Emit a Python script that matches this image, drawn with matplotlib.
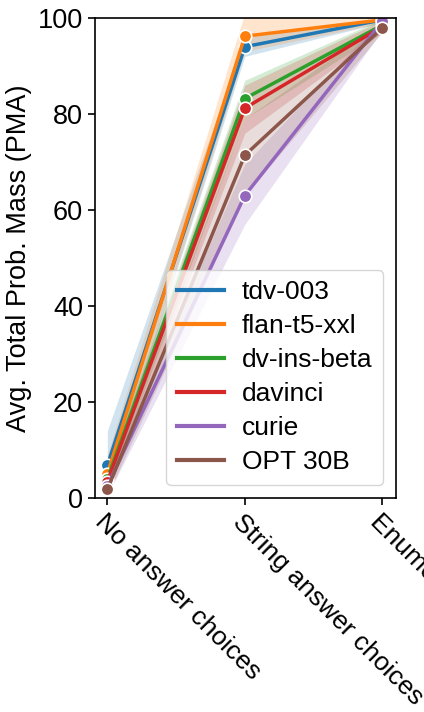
import numpy as np
import matplotlib.pyplot as plt
import matplotlib.transforms as mtransforms
from matplotlib.lines import Line2D

plt.rcParams['font.family'] = ['Liberation Sans', 'DejaVu Sans']

categories = ["No answer choices", "String answer choices", "Enumerated answer choices"]
models = ["tdv-003", "flan-t5-xxl", "dv-ins-beta", "davinci", "curie", "OPT 30B"]
colors = ["#1f77b4", "#ff7f0e", "#2ca02c", "#d62728", "#9467bd", "#8c564b"]

# mean PMA per model at each prompt format
pma_mean = {
    "tdv-003":     [6.8, 94.0, 99.6],
    "flan-t5-xxl": [5.0, 96.2, 99.6],
    "dv-ins-beta": [4.0, 83.2, 98.5],
    "davinci":     [3.4, 81.2, 98.2],
    "curie":       [2.5, 63.0, 99.3],
    "OPT 30B":     [1.8, 71.4, 97.9],
}
# confidence band (low, high)
pma_low = {
    "tdv-003":     [2.0, 92.0, 99.0],
    "flan-t5-xxl": [2.0, 93.0, 99.0],
    "dv-ins-beta": [1.5, 79.0, 97.0],
    "davinci":     [1.0, 76.0, 97.0],
    "curie":       [0.5, 57.0, 97.5],
    "OPT 30B":     [0.5, 63.0, 97.0],
}
pma_high = {
    "tdv-003":     [14.0, 96.0, 100.0],
    "flan-t5-xxl": [9.0, 101.0, 100.0],
    "dv-ins-beta": [6.0, 87.0, 99.8],
    "davinci":     [5.5, 86.0, 99.5],
    "curie":       [4.5, 69.5, 100.0],
    "OPT 30B":     [3.5, 79.0, 99.0],
}

fig = plt.figure(figsize=(4.24, 7.12), dpi=100)
ax = fig.add_axes([0.224, 0.3006, 0.71, 0.6742])

x = np.arange(len(categories))
for name, c in zip(models, colors):
    ax.fill_between(x, pma_low[name], pma_high[name], color=c, alpha=0.2, lw=0)
    ax.plot(x, pma_mean[name], color=c, lw=2.5, marker="o", markersize=9,
            markeredgecolor="white", markeredgewidth=1.2)

ax.set_xlim(-0.09, 2.1)
ax.set_ylim(0, 100)
ax.set_yticks([0, 20, 40, 60, 80, 100])
ax.set_xticks(x)
ax.set_xticklabels(categories, rotation=-45, ha="left", va="top", rotation_mode="anchor")
shift = mtransforms.ScaledTranslation(-0.19, -0.17, fig.dpi_scale_trans)
for lab in ax.get_xticklabels():
    lab.set_transform(lab.get_transform() + shift)
ax.tick_params(axis="y", labelsize=19.5, length=5, width=1.2)
ax.tick_params(axis="x", labelsize=19, length=5, width=1.2)
ax.set_ylabel("Avg. Total Prob. Mass (PMA)", fontsize=19.5)
for s in ax.spines.values():
    s.set_linewidth(1.2)

handles = [Line2D([], [], color=c, lw=3) for c in colors]
ax.legend(handles, models, loc="lower right", fontsize=19, handlelength=1.8,
          handletextpad=0.65, framealpha=0.8, borderpad=0.4, labelspacing=0.38)

fig.savefig("out.png", dpi=100)
